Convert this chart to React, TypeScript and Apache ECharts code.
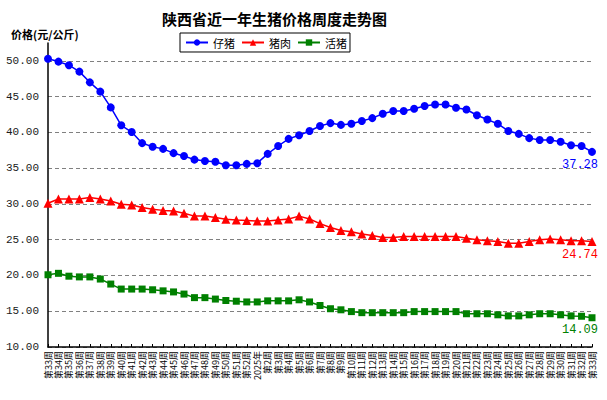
import React, { useEffect, useRef } from "react";
import * as echarts from "echarts";

const categories: string[] = [
  "第33周", "第34周", "第35周", "第36周", "第37周", "第38周", "第39周", "第40周", "第41周", "第42周",
  "第43周", "第44周", "第45周", "第46周", "第47周", "第48周", "第49周", "第50周", "第51周", "第52周",
  "2025年",
  "第2周", "第3周", "第4周", "第5周", "第6周", "第7周", "第8周", "第9周", "第10周", "第11周",
  "第12周", "第13周", "第14周", "第15周", "第16周", "第17周", "第18周", "第19周", "第20周", "第21周",
  "第22周", "第23周", "第24周", "第25周", "第26周", "第27周", "第28周", "第29周", "第30周", "第31周",
  "第32周", "第33周",
];

const piglet: number[] = [
  50.3, 49.9, 49.4, 48.5, 47.0, 45.7, 43.5, 41.0, 40.05, 38.5,
  38.0, 37.7, 37.1, 36.7, 36.2, 36.0, 35.9, 35.4, 35.4, 35.6,
  35.7, 37.0, 38.1, 39.1, 39.6, 40.2, 40.9, 41.3, 41.05, 41.2,
  41.6, 42.0, 42.6, 43.0, 43.0, 43.3, 43.7, 43.9, 43.9, 43.45,
  43.2, 42.4, 41.8, 41.2, 40.2, 39.8, 39.2, 38.95, 38.95, 38.7,
  38.2, 38.1, 37.28,
];

const pork: number[] = [
  30.1, 30.7, 30.7, 30.7, 30.9, 30.7, 30.4, 29.95, 29.85, 29.5,
  29.25, 29.1, 29.0, 28.7, 28.3, 28.3, 28.1, 27.85, 27.75, 27.7,
  27.6, 27.6, 27.75, 27.9, 28.3, 27.9, 27.25, 26.7, 26.3, 26.1,
  25.8, 25.6, 25.3, 25.3, 25.45, 25.45, 25.45, 25.45, 25.45, 25.45,
  25.2, 25.0, 24.85, 24.75, 24.5, 24.5, 24.75, 25.0, 25.1, 25.0,
  24.85, 24.85, 24.74,
];

const hog: number[] = [
  20.1, 20.3, 19.9, 19.8, 19.8, 19.5, 18.8, 18.1, 18.1, 18.1,
  18.0, 17.85, 17.7, 17.4, 16.9, 16.9, 16.7, 16.5, 16.4, 16.3,
  16.3, 16.45, 16.45, 16.45, 16.6, 16.3, 15.8, 15.35, 15.2, 14.95,
  14.8, 14.8, 14.8, 14.8, 14.8, 14.95, 14.95, 14.95, 14.95, 14.95,
  14.65, 14.65, 14.65, 14.5, 14.35, 14.35, 14.5, 14.65, 14.65, 14.5,
  14.35, 14.3, 14.09,
];

const seriesNames = ["仔猪", "猪肉", "活猪"];
const seriesColors = ["#0000ff", "#ff0000", "#008000"];
const seriesSymbols = ["circle", "triangle", "rect"];
const seriesSymbolSizes = [8, 9, 7];
const seriesData = [piglet, pork, hog];

const monoFont = "'Liberation Mono', 'DejaVu Sans Mono', monospace";
const cjkFont = "'Noto Sans CJK SC', 'Noto Sans', sans-serif";

export default function App() {
  const ref = useRef<HTMLDivElement>(null);

  useEffect(() => {
    if (!ref.current) return;
    const chart = echarts.init(ref.current, null, { renderer: "svg" });

    const series = seriesData.map((arr, si) => ({
      name: seriesNames[si],
      type: "line",
      data: arr.map((v, i) =>
        i === arr.length - 1
          ? {
              value: v,
              label: {
                show: true,
                position: "bottom",
                distance: 3,
                offset: [-12, 0],
                formatter: (p: any) => Number(p.value).toFixed(2),
                color: seriesColors[si],
                fontFamily: monoFont,
                fontSize: 12,
              },
            }
          : v
      ),
      symbol: seriesSymbols[si],
      symbolSize: seriesSymbolSizes[si],
      showAllSymbol: true,
      lineStyle: { color: seriesColors[si], width: 1.5 },
      itemStyle: { color: seriesColors[si] },
      emphasis: { disabled: true },
    }));

    chart.setOption({
      animation: false,
      backgroundColor: "#ffffff",
      title: [
        {
          text: "陕西省近一年生猪价格周度走势图",
          left: 157,
          top: 6,
          textStyle: {
            fontFamily: cjkFont,
            fontSize: 15,
            fontWeight: "bold",
            color: "#000000",
            textShadowColor: "rgba(0,0,0,0.35)",
            textShadowOffsetX: 1,
            textShadowOffsetY: 1,
            textShadowBlur: 0,
          },
        },
        {
          text: "价格(元/公斤)",
          left: 6,
          top: 23,
          textStyle: {
            fontFamily: cjkFont,
            fontSize: 11,
            fontWeight: "bold",
            color: "#000000",
          },
        },
      ],
      legend: {
        data: seriesNames,
        left: 180,
        top: 33,
        orient: "horizontal",
        padding: [4, 3, 4, 5],
        itemWidth: 22,
        itemHeight: 8,
        itemGap: 6,
        borderColor: "#000000",
        borderWidth: 1,
        borderRadius: 0,
        textStyle: { fontFamily: cjkFont, fontSize: 11, color: "#000000" },
      },
      grid: { left: 48, right: 15, top: 43, bottom: 53, containLabel: false },
      xAxis: {
        type: "category",
        data: categories,
        boundaryGap: false,
        axisLine: { lineStyle: { color: "#000000", width: 1.5 } },
        axisTick: { show: true, inside: true, length: 3, alignWithLabel: true, interval: 0, lineStyle: { color: "#000000" } },
        axisLabel: {
          interval: 0,
          rotate: 90,
          fontSize: 9,
          fontFamily: cjkFont,
          color: "#000000",
          margin: 4,
        },
        splitLine: { show: false },
      },
      yAxis: {
        type: "value",
        min: 10,
        max: 52.5,
        interval: 5,
        axisLine: { show: true, lineStyle: { color: "#000000", width: 1.5 } },
        axisTick: { show: false },
        axisLabel: {
          showMaxLabel: false,
          formatter: (v: number) => (v % 5 === 0 ? v.toFixed(2) : ""),
          fontFamily: monoFont,
          fontSize: 11,
          color: "#1a1a1a",
          margin: 9,
        },
        splitLine: {
          show: true,
          showMaxLine: false,
          lineStyle: { color: "#808080", type: [4, 3], width: 1 },
        },
      },
      series,
    });

    return () => chart.dispose();
  }, []);

  return (
    <div
      ref={ref}
      style={{ position: "fixed", left: 0, top: 0, width: 607, height: 400 }}
    />
  );
}
